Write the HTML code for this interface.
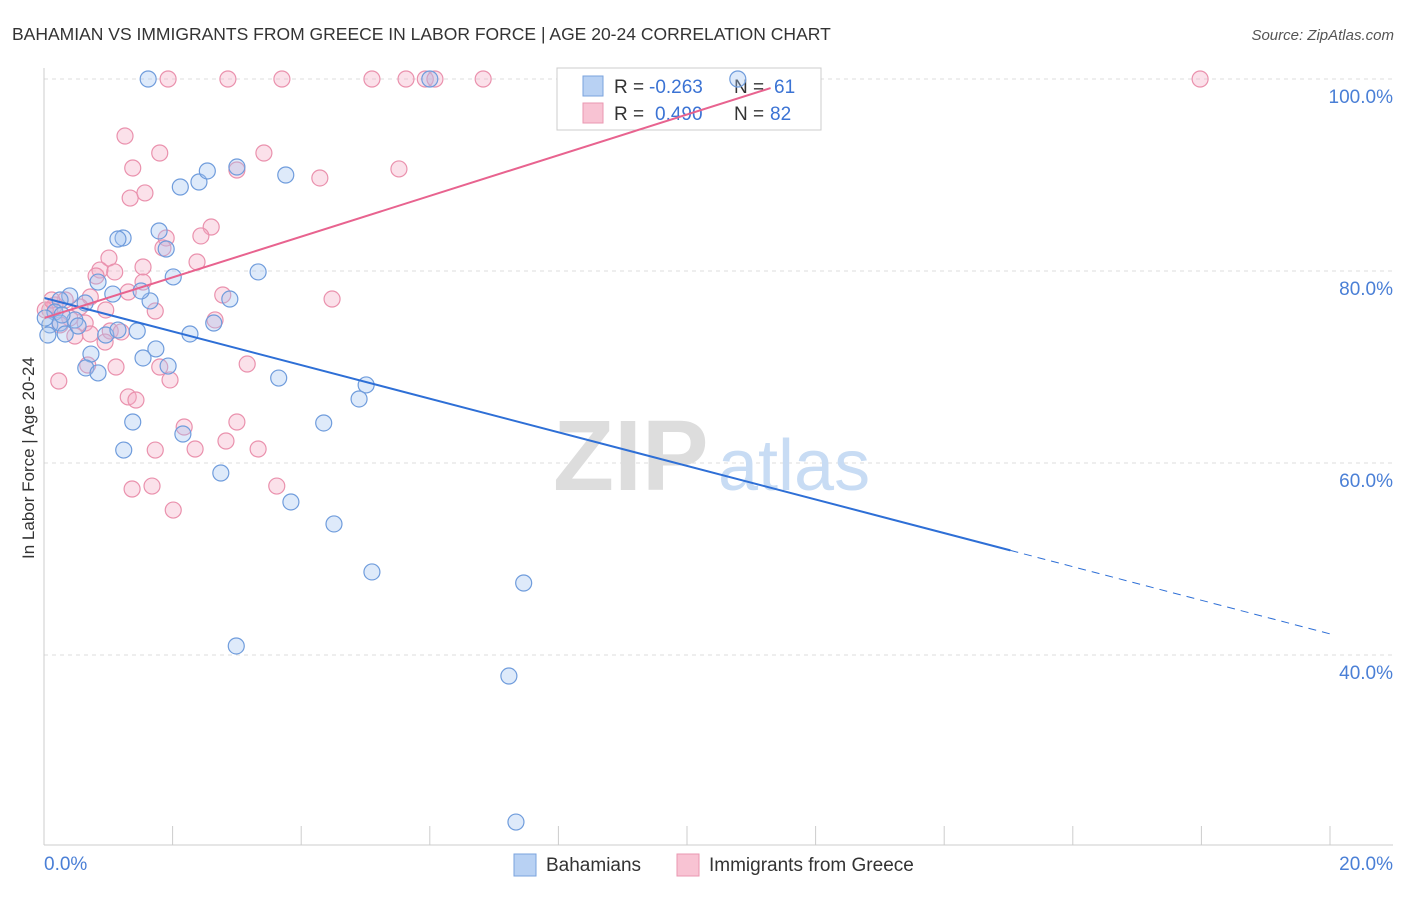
<!DOCTYPE html>
<html><head><meta charset="utf-8"><style>
body{margin:0;background:#fff;font-family:"Liberation Sans",sans-serif;}
svg text{font-family:"Liberation Sans",sans-serif;}
</style></head><body>
<svg id="chart" width="1406" height="892" xmlns="http://www.w3.org/2000/svg">
<text x="12" y="40" font-size="17.5" fill="#333">BAHAMIAN VS IMMIGRANTS FROM GREECE IN LABOR FORCE | AGE 20-24 CORRELATION CHART</text>
<text x="1394" y="40" font-size="15" fill="#555" text-anchor="end" font-style="italic">Source: ZipAtlas.com</text>
<text x="0" y="0" transform="translate(34,458) rotate(-90)" font-size="17" fill="#333" text-anchor="middle">In Labor Force | Age 20-24</text>
<g id="grid"></g>
<g id="wm"><text x="553" y="490" font-size="100" font-family="Liberation Serif" fill="#ddd" font-weight="bold">ZIP</text><text x="718" y="490" font-size="72" fill="#c8dcf4">atlas</text></g>
<g>
<rect x="557" y="68" width="264" height="62" fill="#fff" stroke="#ccc"/>
<rect x="583" y="76" width="20" height="20" fill="#b8d1f3" stroke="#7aa3de"/>
<rect x="583" y="103" width="20" height="20" fill="#f8c3d3" stroke="#ea97b0"/>
<text x="614" y="93" font-size="19" fill="#333">R =</text>
<text x="649" y="93" font-size="19" fill="#3b73d4">-0.263</text>
<text x="734" y="93" font-size="19" fill="#333">N =</text>
<text x="774" y="93" font-size="19" fill="#3b73d4">61</text>
<text x="614" y="120" font-size="19" fill="#333">R =</text>
<text x="655" y="120" font-size="19" fill="#3b73d4">0.490</text>
<text x="734" y="120" font-size="19" fill="#333">N =</text>
<text x="770" y="120" font-size="19" fill="#3b73d4">82</text>
</g>
<g id="pts"></g>
<g id="lines"></g>
<g id="axes"></g>
<g>
<rect x="514" y="854" width="22" height="22" fill="#b8d1f3" stroke="#7aa3de"/>
<text x="546" y="871" font-size="19" fill="#333">Bahamians</text>
<rect x="677" y="854" width="22" height="22" fill="#f8c3d3" stroke="#ea97b0"/>
<text x="709" y="871" font-size="19" fill="#333">Immigrants from Greece</text>
</g>
</svg>
<script>
const yTicks=[40,60,80,100];
const yTickLabels=["40.0%","60.0%","80.0%","100.0%"];
const xTickLabels=["0.0%","20.0%"];
const blueX=[1.62,6.00,10.79,2.12,2.41,2.54,3.00,3.76,1.79,1.23,1.15,1.90,3.33,2.01,2.89,1.65,1.51,1.07,0.84,0.40,0.64,0.25,0.17,0.09,0.25,0.48,0.33,0.53,1.45,0.96,1.15,2.27,2.64,1.74,1.54,0.73,0.65,0.84,1.93,3.65,5.01,4.90,4.35,1.38,2.16,1.24,2.75,3.84,4.51,5.10,7.46,2.99,7.23,7.34,0.06,0.28,0.02];
const blueY=[100,100,100,88.75,89.27,90.42,90.83,90.0,84.17,83.44,83.33,82.29,79.90,79.38,77.08,76.88,77.92,77.60,78.85,77.40,76.67,76.98,75.73,74.38,74.58,74.90,73.44,74.27,73.75,73.33,73.85,73.44,74.58,71.88,70.94,71.35,69.90,69.38,70.10,68.85,68.13,66.67,64.17,64.27,63.02,61.35,58.96,55.94,53.65,48.65,47.50,40.94,37.81,22.60,73.33,75.42,75.10];
const pinkX=[1.93,2.86,3.70,5.10,5.63,5.93,6.08,6.83,17.98,1.26,1.38,1.80,3.00,3.42,4.29,5.52,1.57,1.34,2.60,2.44,1.90,1.85,2.38,1.01,1.54,0.87,1.10,0.81,1.54,1.31,2.78,4.48,0.96,1.73,0.72,0.56,0.33,0.17,0.09,0.40,0.64,0.25,0.48,0.72,1.03,1.20,2.66,0.95,3.16,0.68,1.12,1.80,1.96,1.31,1.43,0.23,2.18,3.00,2.83,1.73,2.35,3.33,3.62,1.37,1.68,2.01,0.02,0.12];
const pinkY=[100,100,100,100,100,100,100,100,100,94.06,90.73,92.29,90.52,92.29,89.69,90.63,88.13,87.60,84.58,83.65,83.44,82.40,80.94,81.35,80.42,80.10,79.90,79.48,78.85,77.81,77.50,77.08,75.94,75.83,77.29,76.25,76.98,76.46,75.94,75.10,74.58,74.38,73.23,73.44,73.75,73.65,74.90,72.60,70.31,70.21,70.00,70.00,68.65,66.88,66.56,68.54,63.75,64.27,62.29,61.35,61.46,61.46,57.60,57.29,57.60,55.10,75.94,76.98];
const blueLine=[77.2,-1.75];
const pinkLine=[75.1,2.12];
const NS="http://www.w3.org/2000/svg";
const X=v=>44+v/20*1286, Y=v=>79+(100-v)*9.6;
function mk(tag,attrs,parent){const e=document.createElementNS(NS,tag);for(const k in attrs)e.setAttribute(k,attrs[k]);document.getElementById(parent).appendChild(e);return e;}
yTicks.forEach((t,i)=>{
 const l=mk('line',{x1:44,x2:1393,y1:Y(t),y2:Y(t),stroke:'#ddd','stroke-dasharray':'4,4'},'grid');
 
 
 const tx=mk('text',{x:1393,y:Y(t)+24,'font-size':19,fill:'#4a7fd6','text-anchor':'end'},'axes');
 tx.textContent=yTickLabels[i];
 
 
});
mk('line',{x1:44,x2:44,y1:68,y2:845,stroke:'#ccc'},'axes');
mk('line',{x1:44,x2:1393,y1:845,y2:845,stroke:'#ccc'},'axes');
for(let i=0;i<=10;i++){const t=mk('line',{x1:X(i*2),x2:X(i*2),y1:826,y2:845,stroke:'#ccc'},'axes');}
const xl0=mk('text',{x:44,y:870,'font-size':19,fill:'#4a7fd6'},'axes');xl0.textContent=xTickLabels[0];


const xl1=mk('text',{x:1393,y:870,'font-size':19,fill:'#4a7fd6','text-anchor':'end'},'axes');xl1.textContent=xTickLabels[1];


pinkX.forEach((v,i)=>{const c=mk('circle',{cx:X(v),cy:Y(pinkY[i]),r:8,fill:'rgba(244,170,194,0.35)',stroke:'#ea91ad','stroke-width':1.2},'pts');
 
 });
blueX.forEach((v,i)=>{const c=mk('circle',{cx:X(v),cy:Y(blueY[i]),r:8,fill:'rgba(160,195,240,0.35)',stroke:'#6f9cdc','stroke-width':1.2},'pts');
 
 });
const bEnd=15.03;
const b1=mk('line',{x1:X(0),y1:Y(blueLine[0]),x2:X(bEnd),y2:Y(blueLine[0]+blueLine[1]*bEnd),stroke:'#2e6fd6','stroke-width':2},'lines');


const b2=mk('line',{x1:X(bEnd),y1:Y(blueLine[0]+blueLine[1]*bEnd),x2:X(20),y2:Y(blueLine[0]+blueLine[1]*20),stroke:'#2e6fd6','stroke-width':1,'stroke-dasharray':'8,6'},'lines');


const pEnd=11.3;
const p1=mk('line',{x1:X(0),y1:Y(pinkLine[0]),x2:X(pEnd),y2:Y(pinkLine[0]+pinkLine[1]*pEnd),stroke:'#e8638f','stroke-width':2},'lines');


</script>
</body></html>
